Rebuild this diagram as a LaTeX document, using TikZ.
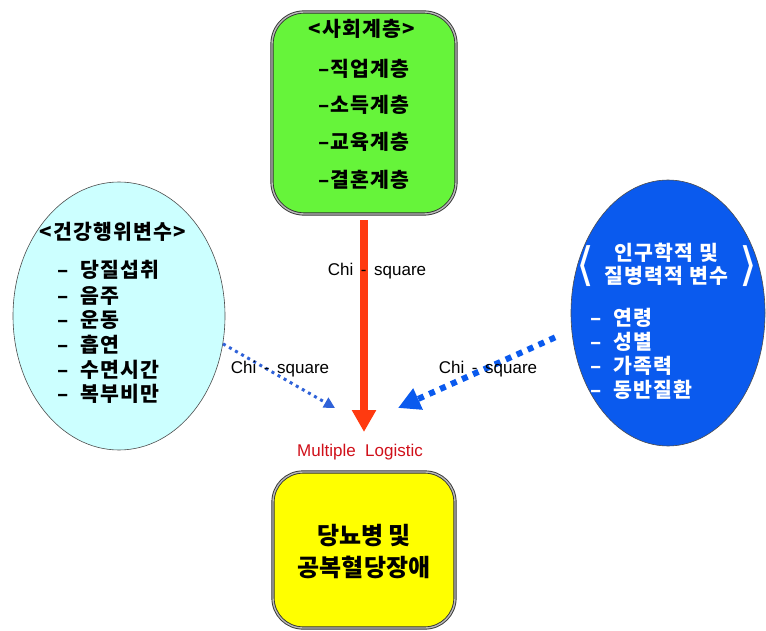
\documentclass[tikz,border=0pt]{standalone}
\usepackage{fontspec}
\setmainfont{Noto Sans CJK KR}
\newfontfamily\latinsans{Liberation Sans}
\newfontfamily\djv{DejaVu Sans}
\usetikzlibrary{arrows.meta,shapes.geometric}
\definecolor{boxgreen}{HTML}{66F43A}
\definecolor{boxyellow}{HTML}{FFFF00}
\definecolor{lightcyan}{HTML}{CCFFFF}
\definecolor{demoblue}{HTML}{0A5AEE}
\definecolor{arrowred}{HTML}{FF3A10}
\definecolor{dotblue}{HTML}{2F62D8}
\definecolor{logred}{HTML}{D0101A}
\tikzset{
  kor/.style={font=\fontsize{20.5}{22}\selectfont\bfseries\addfontfeatures{LetterSpace=6}, inner sep=0pt},
  korw/.style={kor, text=white},
  brk/.style={font=\djv\fontsize{46}{48}\selectfont, text=white, inner sep=0pt},
  lbl/.style={font=\latinsans\fontsize{17}{19}\selectfont, inner sep=0pt},
  roundbox/.style={draw=black!80, line width=0.9pt, double=gray!55, double distance=1.4pt, rounded corners=32pt},
}
\begin{document}
\begin{tikzpicture}[x=1pt,y=-1pt]
\useasboundingbox (0,0) rectangle (766,631);
% top box
\node[roundbox, fill=boxgreen, minimum width=184pt, minimum height=202pt] (soc) at (364,113) {};
\node[kor] (s0) at (362,29) {<사회계층>};
\node[kor] (s1) at (364,69) {–직업계층};
\node[kor] (s2) at (364,105) {–소득계층};
\node[kor] (s3) at (364,142) {–교육계층};
\node[kor] (s4) at (364,180) {–결혼계층};
% left ellipse
\node[ellipse, draw=black!70, line width=0.6pt, fill=lightcyan, minimum width=212pt, minimum height=268pt] (beh) at (119,316) {};
\node[kor] (b0) at (113,232) {<건강행위변수>};
\node[kor, anchor=west] (b1) at (57,270) {–\ \ 당질섭취};
\node[kor, anchor=west] (b2) at (57,296) {–\ \ 음주};
\node[kor, anchor=west] (b3) at (57,320) {–\ \ 운동};
\node[kor, anchor=west] (b4) at (57,345) {–\ \ 흡연};
\node[kor, anchor=west] (b5) at (57,370) {–\ \ 수면시간};
\node[kor, anchor=west] (b6) at (57,394) {–\ \ 복부비만};
% right ellipse
\node[ellipse, draw=black!70, line width=0.6pt, fill=demoblue, minimum width=194pt, minimum height=266pt] (demo) at (668,313) {};
\node[korw] (d0) at (666,253) {인구학적 및};
\node[korw] (d1) at (666,276) {질병력적 변수};
\node[brk] (dl) at (585,266) {⟨};
\node[brk] (dr) at (748,266) {⟩};
\node[korw, anchor=west] (d2) at (590,318) {–\ \ 연령};
\node[korw, anchor=west] (d3) at (590,342) {–\ \ 성별};
\node[korw, anchor=west] (d4) at (590,366) {–\ \ 가족력};
\node[korw, anchor=west] (d5) at (590,390) {–\ \ 동반질환};
% bottom box
\node[roundbox, fill=boxyellow, minimum width=182pt, minimum height=156pt, rounded corners=30pt] (dm) at (364,550) {};
\node[font=\fontsize{24}{26}\selectfont\bfseries, inner sep=0pt] (dm1) at (364,536) {당뇨병 및};
\node[font=\fontsize{24}{26}\selectfont\bfseries, inner sep=0pt] (dm2) at (364,567) {공복혈당장애};
% arrows
\coordinate (redtip) at (364,432);
\coordinate (ltip) at (335,408);
\coordinate (rtip) at (398,408);
\draw[arrowred, line width=8pt, shorten <=6pt, -{Triangle[width=23pt,length=22pt]}] (soc.south) -- (redtip);
\draw[dotblue, line width=3pt, dash pattern=on 3pt off 4pt, -{Triangle[width=11pt,length=11pt]}] (beh.-15) -- (ltip);
\draw[demoblue, line width=6pt, dash pattern=on 6pt off 6pt, shorten <=18pt, -{Triangle[width=22pt,length=22pt]}] (demo.190) -- (rtip);
% labels
\node[lbl] (c1) at (377,271) {Chi \,-\, square};
\node[lbl] (c2) at (280,369) {Chi \,-\, square};
\node[lbl] (c3) at (488,369) {Chi \,-\, square};
\node[lbl, text=logred] (ml) at (360,452) {Multiple\ \ Logistic};
\end{tikzpicture}
\end{document}
